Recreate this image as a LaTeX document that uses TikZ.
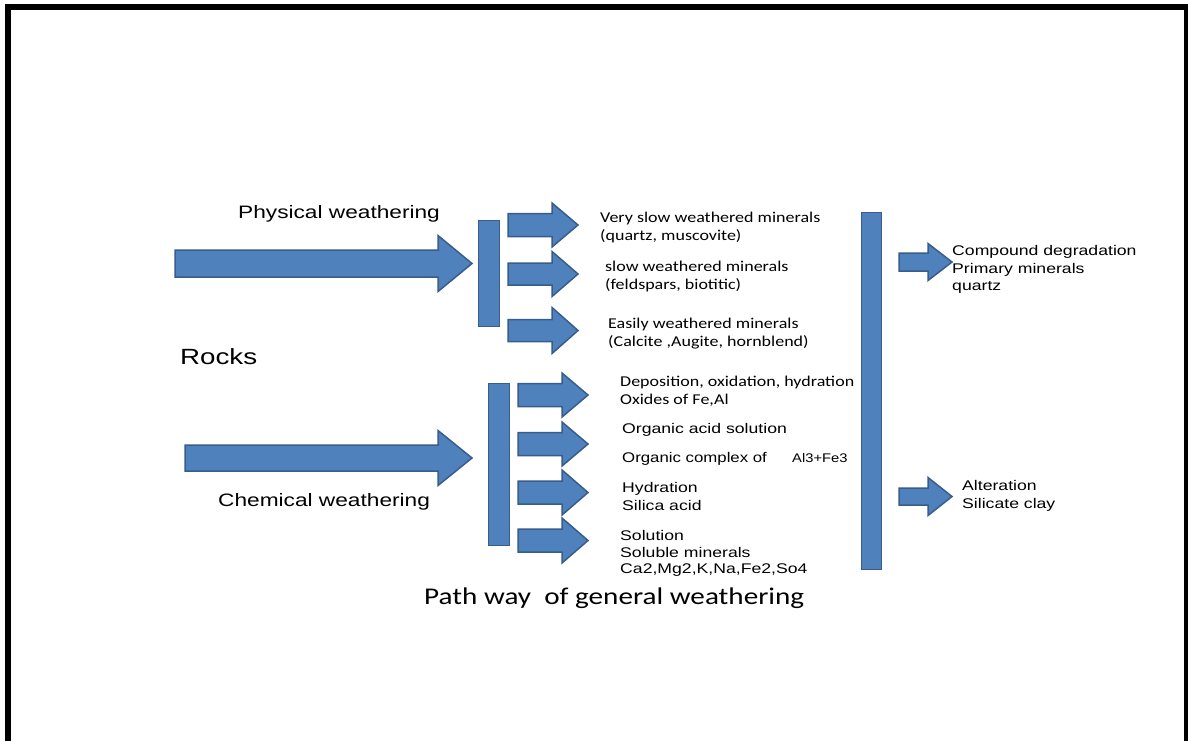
\documentclass[tikz,border=0pt]{standalone}
\usepackage{fontspec}
\setmainfont{Liberation Sans}
\newfontfamily\calib{Carlito}
\definecolor{bfill}{RGB}{79,129,189}
\definecolor{bline}{RGB}{56,93,138}
\newcommand\stA[1]{\scalebox{1.26}[1]{#1}}
\newcommand\stB[1]{\scalebox{1.2}[1]{#1}}
\newcommand\stC[1]{\scalebox{1.215}[1]{#1}}
\newcommand\blkarrow[6]{\draw[blk] (#1,{#2-#5}) -- (#3,{#2-#5}) -- (#3,{#2-#6}) -- (#4,#2) -- (#3,{#2+#6}) -- (#3,{#2+#5}) -- (#1,{#2+#5}) -- cycle;}
\tikzset{
  blk/.style={fill=bfill, draw=bline, line width=1.5pt, line join=miter},
  barbox/.style={blk, rectangle, inner sep=0pt},
  lbl/.style={anchor=west, inner sep=0pt, align=left, text=black},
  arA/.style={lbl, font=\fontsize{14}{17.5}\selectfont},
  cbB/.style={lbl, font=\calib\fontsize{15}{18}\selectfont},
}
\begin{document}
\begin{tikzpicture}[x=1pt,y=-1pt]
\useasboundingbox (0,0) rectangle (1188,740);
\clip (0,0) rectangle (1188,740);
\fill[white] (0,0) rectangle (1188,740);
% frame
\draw[line width=6pt, line cap=butt] (7.5,745) -- (7.5,7) -- (1187,7) -- (1187,745);

% big arrows
\blkarrow{175}{263.5}{438}{472}{13.5}{28}
\blkarrow{185}{458}{438}{472}{13}{27.5}

% bars
\node[barbox, minimum width=21pt, minimum height=106pt] (pbar) at (489,273.5) {};
\node[barbox, minimum width=21pt, minimum height=162pt] (cbar) at (499,464.5) {};
\node[barbox, minimum width=20pt, minimum height=357pt] (rbar) at (871.5,391) {};

% small arrows (physical)
\blkarrow{508}{225}{552}{578}{11.5}{22}
\blkarrow{508}{274}{552}{578}{11}{22.5}
\blkarrow{508}{330.5}{552}{578}{11}{23}
% small arrows (chemical)
\blkarrow{518}{395}{562}{588}{11.5}{22}
\blkarrow{518}{444}{562}{588}{11.5}{22}
\blkarrow{518}{492.5}{562}{588}{11.5}{22.5}
\blkarrow{518}{540.5}{562}{588}{11.5}{22.5}
% right arrows
\blkarrow{899}{262}{928}{952}{9}{18.5}
\blkarrow{899}{496.5}{928}{952}{8.5}{19}

% left labels
\node[lbl, font=\fontsize{18}{22}\selectfont] (phys) at (238,214) {\stA{Physical weathering}};
\node[lbl, font=\fontsize{22}{26}\selectfont] (rocks) at (180,357) {\stA{Rocks}};
\node[lbl, font=\fontsize{18}{22}\selectfont] (chem) at (218,502) {\stA{Chemical weathering}};

% physical products
\node[cbB] (vslow) at (600,227) {\stB{Very slow weathered minerals}\\\stB{(quartz, muscovite)}};
\node[cbB] (slow) at (605,276) {\stB{slow weathered minerals}\\\stB{(feldspars, biotitic)}};
\node[cbB] (easy) at (608,333.5) {\stB{Easily weathered minerals}\\\stB{(Calcite ,Augite, hornblend)}};

% chemical products
\node[cbB] (depo) at (620,391) {\stB{Deposition, oxidation, hydration}\\\stB{Oxides of Fe,Al}};
\node[arA] (orgacid) at (622,430) {\stA{Organic acid solution}};
\node[arA, anchor=base west] (orgcx) at (622,462) {\scalebox{1.2}[1]{Organic complex of}};
\node[lbl, anchor=base west, font=\fontsize{12.5}{15}\selectfont] (alfe) at (792,462) {\scalebox{1.18}[1]{Al3+Fe3}};
\node[arA] (hydr) at (622,496.5) {\stA{Hydration}\\\stA{Silica acid}};
\node[lbl, font=\fontsize{14}{16.5}\selectfont] (solu) at (620,553.5) {\stA{Solution}\\\stA{Soluble minerals}\\\stA{Ca2,Mg2,K,Na,Fe2,So4}};

% right products
\node[arA] (comp) at (952,269.5) {\stA{Compound degradation}\\\stA{Primary minerals}\\\stA{quartz}};
\node[arA] (alter) at (962,496) {\stA{Alteration}\\\stA{Silicate clay}};

% title
\node[lbl, font=\calib\fontsize{24}{28}\selectfont] (title) at (424,598.5) {\stC{Path way~ of general weathering}};
\end{tikzpicture}
\end{document}
